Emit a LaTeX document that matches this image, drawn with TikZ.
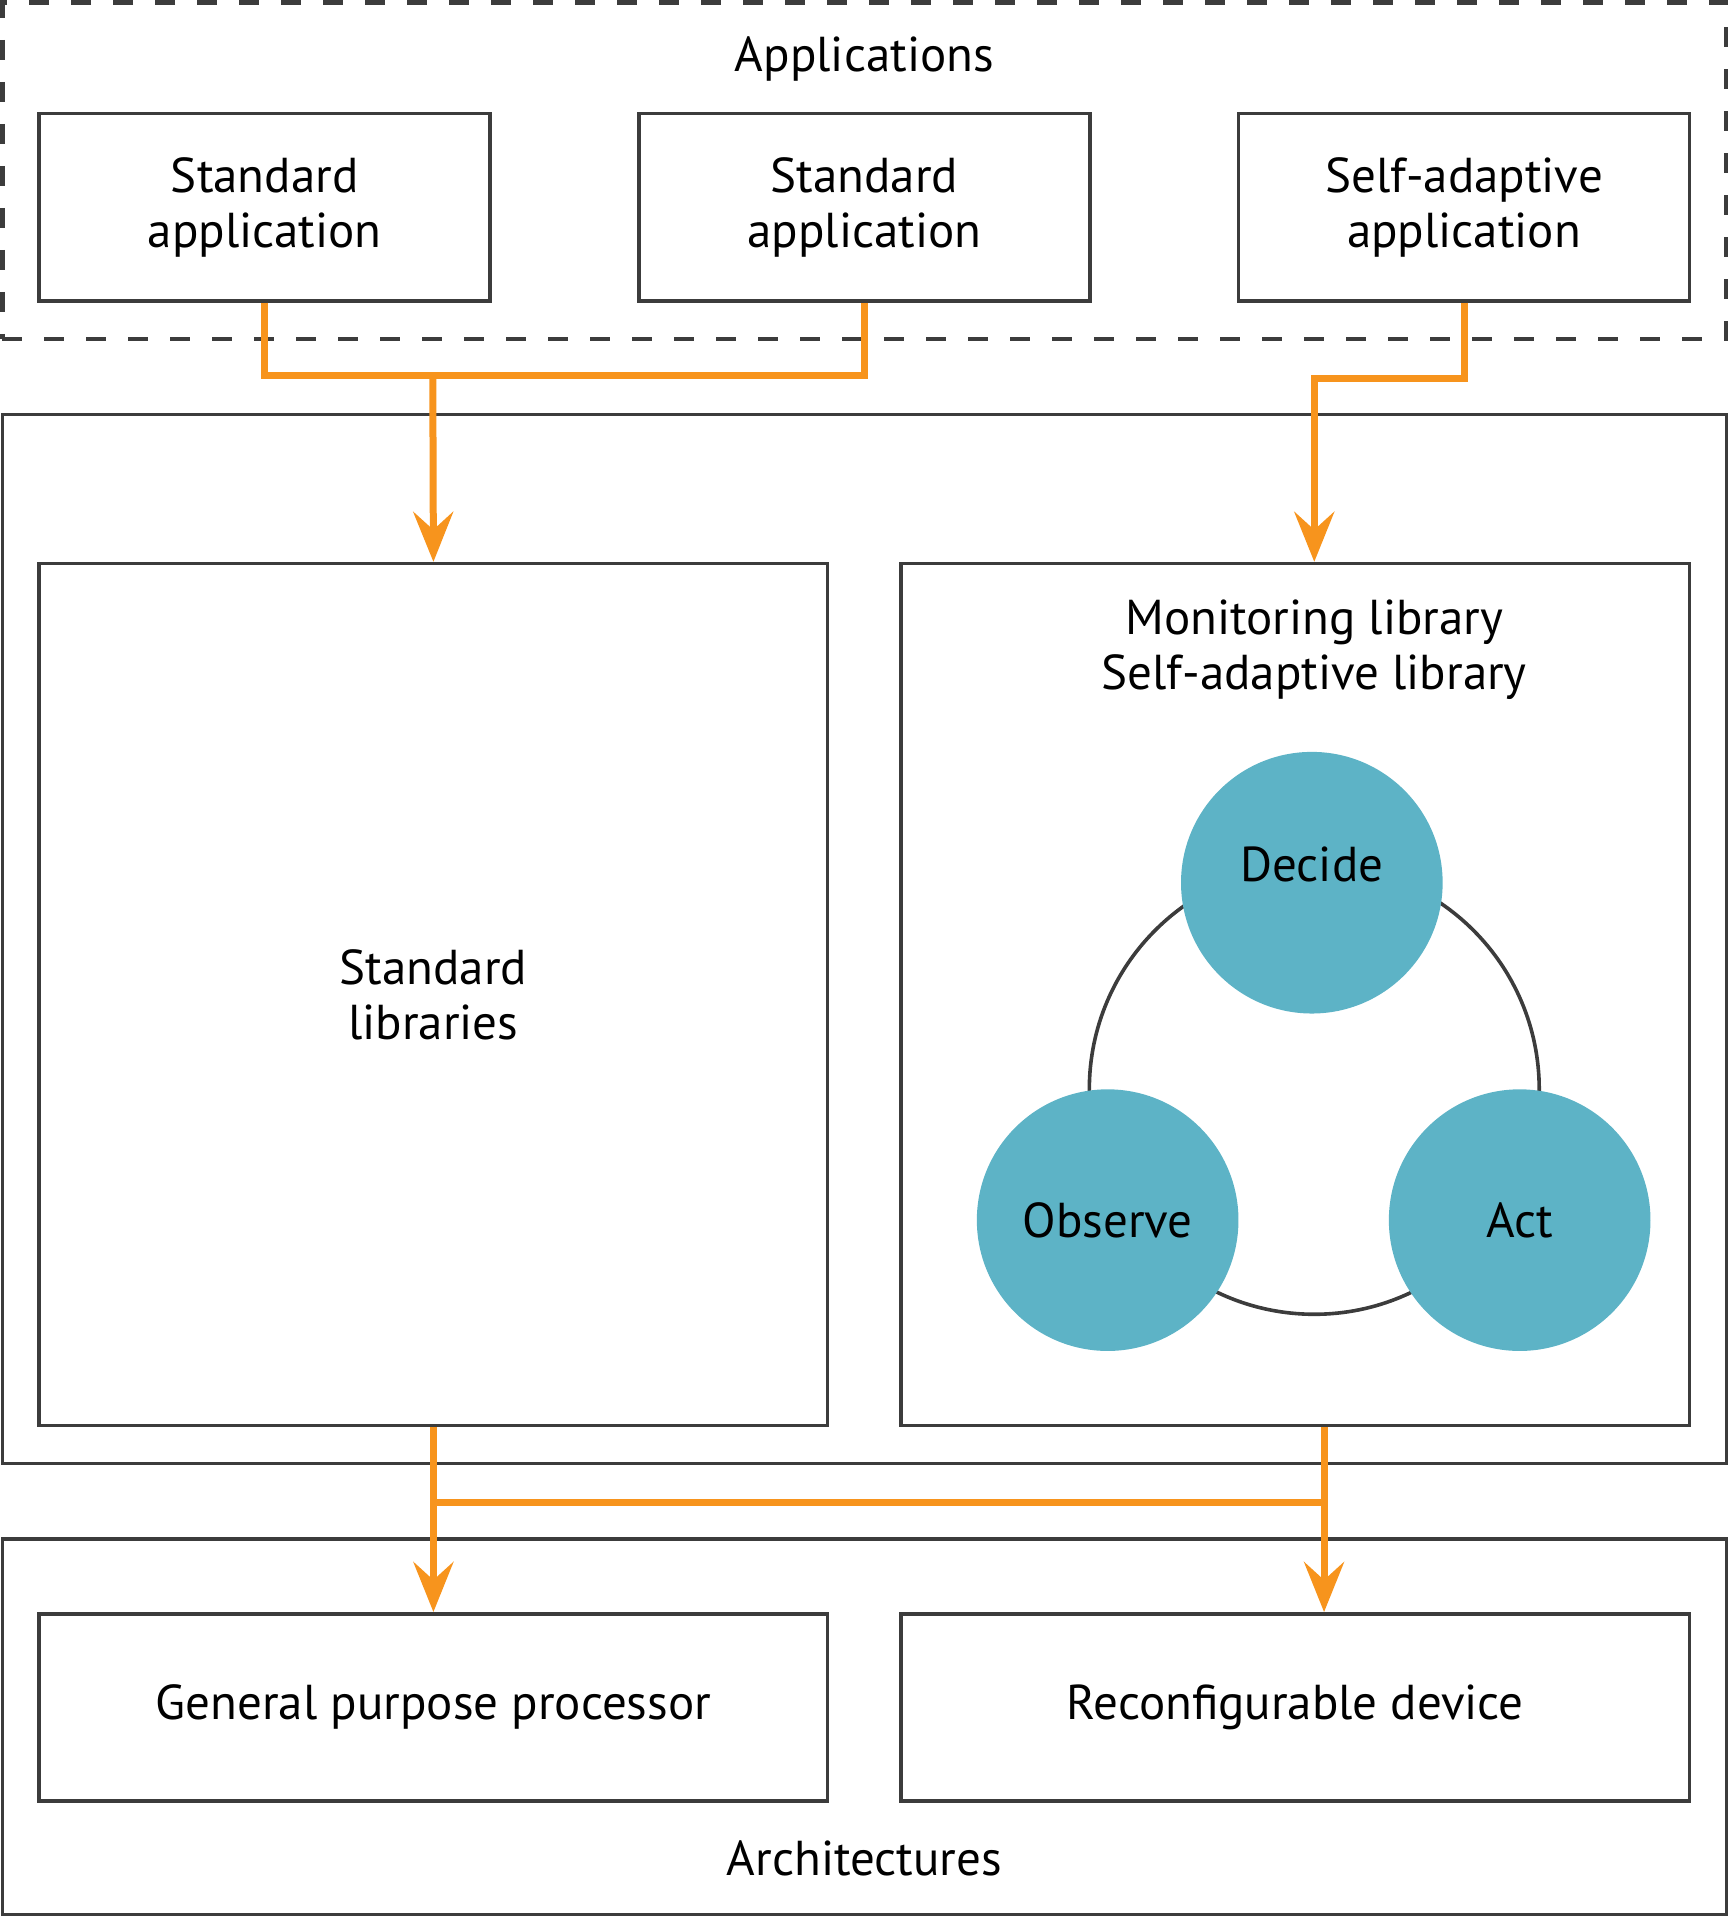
\documentclass[tikz,border=0pt]{standalone}
\usepackage{fontspec}
\setmainfont{PT Sans}
\usetikzlibrary{arrows.meta}
\definecolor{linegray}{HTML}{3C3C3C}
\definecolor{floworange}{HTML}{F7941D}
\definecolor{loopblue}{HTML}{5DB3C6}
\tikzset{
  block/.style 2 args={draw=linegray, line width=1.8pt, minimum width=#1*0.6114pt, minimum height=#2*0.6114pt, inner sep=0pt, align=center},
  loopnode/.style={circle, fill=loopblue, minimum size=214*0.6114pt, inner sep=0pt},
  flowline/.style={draw=floworange, line width=3.5pt},
  flowarrow/.style={flowline, -{Stealth[length=25pt,width=20pt,inset=9pt]}}
}
\begin{document}
\begin{tikzpicture}[x=0.6114pt, y=-0.6114pt, font=\fontsize{24.5}{27.5}\selectfont]
    \useasboundingbox (0,0) rectangle (1414,1568);
    % applications
    \node[block={1410}{275}, line width=2.1pt, dash pattern=on 10pt off 11pt] (apps) at (707,139.5) {};
    \node (appstitle) at (707,48) {Applications};
    \node[block={369}{153}] (app1) at (216.5,169.5) {Standard\\application};
    \node[block={369}{153}] (app2) at (707,169.5) {Standard\\application};
    \node[block={369}{153}] (app3) at (1197.5,169.5) {Self-adaptive\\application};
    % libraries
    \node[block={1410}{858}] (libs) at (707,768) {};
    \node[block={645}{705}] (stdlib) at (354.5,813.5) {Standard\\libraries};
    \node[block={645}{705}] (monlib) at (1059.5,813.5) {};
    \node[align=center] (montext) at (1075,531) {Monitoring library\\Self-adaptive library};
    \coordinate (hub) at (1075,891);
    \draw[linegray, line width=1.8pt] (hub) circle[radius=184];
    \node[loopnode, label={[yshift=9pt]center:Decide}] (decide) at (1073,722) {};
    \node[loopnode] (observe) at (906,998) {Observe};
    \node[loopnode] (act) at (1243,998) {Act};
    % architectures
    \node[block={1410}{307}] (archs) at (707,1412.5) {};
    \node[block={645}{153}] (gpp) at (354.5,1396.5) {General purpose processor};
    \node[block={645}{153}] (reconf) at (1059.5,1396.5) {Reconfigurable device};
    \node (archtitle) at (707,1520) {Architectures};
    % flows
    \coordinate (j1) at (354,307);
    \coordinate (j2) at (1083,1229);
    \draw[flowline] (app1.south) |- (j1) -| (app2.south);
    \draw[flowarrow] (j1) -- (stdlib.north);
    \draw[flowarrow] (app3.south) -- ++(0,62) -| (monlib.north -| montext);
    \draw[flowarrow] (stdlib.south) -- (gpp.north);
    \draw[flowarrow] (monlib.south -| j2) -- (reconf.north -| j2);
    \draw[flowline] (stdlib.south |- j2) -- (j2);
\end{tikzpicture}
\end{document}
